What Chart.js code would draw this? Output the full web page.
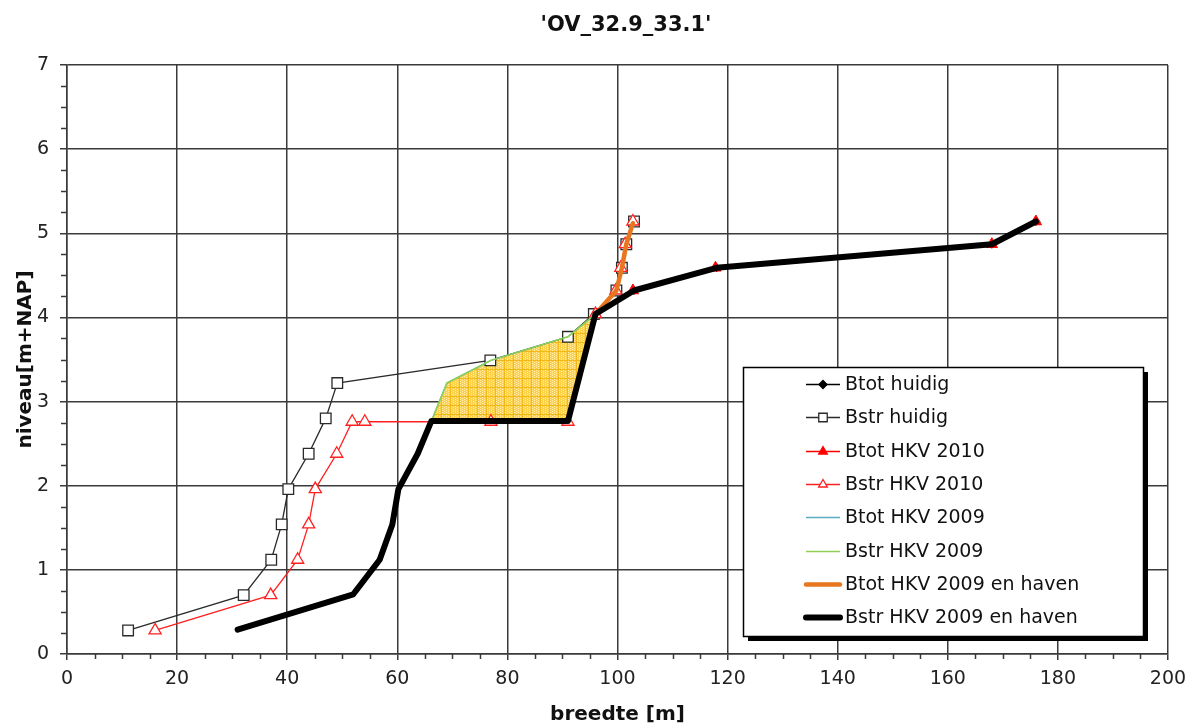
<!DOCTYPE html>
<html>
<head>
<meta charset="utf-8">
<script src="https://cdn.jsdelivr.net/npm/chart.js@4.4.1/dist/chart.umd.min.js"></script>
<style>
html,body{margin:0;padding:0;background:#fff;}
#wrap{width:1197px;height:728px;position:relative;}
</style>
</head>
<body>
<div id="wrap"><canvas id="c" width="1197" height="728"></canvas></div>
<script>
// ---------- texts ----------
const chartTitle = "'OV_32.9_33.1'";
const xAxisTitle = "breedte [m]";
const yAxisTitle = "niveau[m+NAP]";
const seriesNames = ["Btot huidig", "Bstr huidig", "Btot HKV 2010", "Bstr HKV 2010",
  "Btot HKV 2009", "Bstr HKV 2009", "Btot HKV 2009 en haven", "Bstr HKV 2009 en haven"];

// ---------- axis ranges / ticks ----------
const xMin = 0, xMax = 200, xStep = 20, xMinorStep = 5;
const yMin = 0, yMax = 7, yStep = 1, yMinorStep = 0.25;

// ---------- data (breedte [m], niveau [m+NAP]) ----------
const btotHuidigX = [96.0, 103.0, 118.0, 168.0, 176.0];
const btotHuidigY = [4.04, 4.32, 4.59, 4.87, 5.14];

const bstrHuidigX = [11.1, 32.1, 37.1, 39.0, 40.2, 43.9, 47.0, 49.1, 76.9, 91.0, 95.7, 99.8, 100.8, 101.6, 103.0];
const bstrHuidigY = [0.28, 0.70, 1.12, 1.54, 1.96, 2.38, 2.80, 3.22, 3.49, 3.77, 4.04, 4.32, 4.59, 4.87, 5.14];

const btotHkv2010X = [96.0, 102.8, 117.8, 168.0, 176.0];
const btotHkv2010Y = [4.04, 4.32, 4.59, 4.87, 5.14];

const bstrHkv2010X = [16.0, 37.0, 41.9, 43.9, 45.1, 49.0, 51.8, 54.1, 77.0, 91.0, 96.0, 99.7, 100.6, 101.4, 102.8];
const bstrHkv2010Y = [0.28, 0.70, 1.12, 1.54, 1.96, 2.38, 2.76, 2.76, 2.76, 2.76, 4.04, 4.32, 4.59, 4.87, 5.14];

const btotHkv2009X = [66.2, 69.0, 77.0, 91.0, 96.0];
const btotHkv2009Y = [2.77, 3.22, 3.49, 3.77, 4.04];

const bstrHkv2009X = [31.0, 52.0, 56.8, 59.1, 60.2, 63.7, 66.2, 69.0, 77.0, 91.0, 96.0];
const bstrHkv2009Y = [0.29, 0.71, 1.12, 1.54, 1.96, 2.38, 2.77, 3.22, 3.49, 3.77, 4.04];

const btotHavenX = [31.0, 52.0, 56.8, 59.1, 60.2, 63.7, 66.2, 91.0, 96.0, 99.8, 100.8, 101.6, 102.8];
const btotHavenY = [0.29, 0.71, 1.12, 1.54, 1.96, 2.38, 2.77, 2.77, 4.04, 4.32, 4.59, 4.87, 5.12];

const bstrHavenX = [31.0, 52.0, 56.8, 59.1, 60.2, 63.7, 66.2, 91.0, 96.0, 103.0, 118.0, 168.0, 176.0];
const bstrHavenY = [0.29, 0.71, 1.12, 1.54, 1.96, 2.38, 2.77, 2.77, 4.04, 4.32, 4.59, 4.87, 5.14];

// shaded area between "Bstr HKV 2009" and "Bstr HKV 2009 en haven"
const areaX = [66.2, 69.0, 77.0, 91.0, 96.0, 91.0, 66.2];
const areaY = [2.77, 3.22, 3.49, 3.77, 4.04, 2.77, 2.77];

// ---------- helpers ----------
const pts = (xs, ys) => xs.map((x, i) => ({x: x, y: ys[i]}));
const FONT = "'DejaVu Sans', Verdana, sans-serif";
Chart.defaults.font.family = FONT;

const canvas = document.getElementById('c');
const ctx0 = canvas.getContext('2d');

function makePattern() {
  const c = document.createElement('canvas');
  c.width = 9; c.height = 9;
  const g = c.getContext('2d');
  g.fillStyle = '#FCD24C'; g.fillRect(0, 0, 9, 9);
  g.fillStyle = '#FFEDB0';
  for (let i = 1; i < 9; i += 2) for (let j = 1 + ((i >> 1) % 2); j < 9; j += 2) g.fillRect(i, j, 1, 1);
  g.fillStyle = '#F2B81A';
  g.fillRect(0, 0, 9, 1); g.fillRect(0, 0, 1, 9);
  return ctx0.createPattern(c, 'repeat');
}

const GRID = '#3a3a3a';

const datasets = [
  { label: seriesNames[0], data: pts(btotHuidigX, btotHuidigY), borderColor: '#000', backgroundColor: '#000',
    borderWidth: 1.3, pointStyle: 'rectRot', pointRadius: 4, pointBorderWidth: 1, order: 8, legendRadius: 4 },
  { label: seriesNames[1], data: pts(bstrHuidigX, bstrHuidigY), borderColor: '#2a2a2a', backgroundColor: '#fff',
    borderWidth: 1.3, pointStyle: 'rect', pointRadius: 7.5, pointBorderWidth: 1.3, order: 7, legendRadius: 6 },
  { label: seriesNames[2], data: pts(btotHkv2010X, btotHkv2010Y), borderColor: '#ff0000', backgroundColor: '#ff0000',
    borderWidth: 1.3, pointStyle: 'triangle', pointRadius: 6.5, pointBorderWidth: 1, order: 6, legendRadius: 5 },
  { label: seriesNames[3], data: pts(bstrHkv2010X, bstrHkv2010Y), borderColor: '#ff2020', backgroundColor: '#fff',
    borderWidth: 1.3, pointStyle: 'triangle', pointRadius: 7, pointBorderWidth: 1.3, order: 5, legendRadius: 5 },
  { label: seriesNames[4], data: pts(btotHkv2009X, btotHkv2009Y), borderColor: '#5aaec4', backgroundColor: '#5aaec4',
    borderWidth: 1.3, pointRadius: 0, order: 4 },
  { label: seriesNames[5], data: pts(bstrHkv2009X, bstrHkv2009Y), borderColor: '#8fcf55', backgroundColor: '#8fcf55',
    borderWidth: 1.5, pointRadius: 0, order: 3 },
  { label: seriesNames[6], data: pts(btotHavenX, btotHavenY), borderColor: '#e8761e', backgroundColor: '#e8761e',
    borderWidth: 4.5, pointRadius: 0, order: 2, borderJoinStyle: 'round', borderCapStyle: 'round' },
  { label: seriesNames[7], data: pts(bstrHavenX, bstrHavenY), borderColor: '#000', backgroundColor: '#000',
    borderWidth: 6, pointRadius: 0, order: 1, borderJoinStyle: 'round', borderCapStyle: 'round' },
  { label: 'area', data: pts(areaX, areaY), borderWidth: 0, borderColor: 'rgba(0,0,0,0)',
    backgroundColor: makePattern(), fill: 'shape', pointRadius: 0, order: 20, noLegend: true }
];

// minor tick marks
const minorTicks = {
  id: 'minorTicks',
  afterDraw(chart) {
    const {x, y} = chart.scales;
    const ctx = chart.ctx;
    ctx.save();
    ctx.strokeStyle = GRID; ctx.lineWidth = 1.5;
    ctx.beginPath();
    for (let v = xMin; v <= xMax + 1e-9; v += xMinorStep) {
      if (Math.abs(v / xStep - Math.round(v / xStep)) < 1e-6) continue;
      const px = Math.round(x.getPixelForValue(v)) + 0.5;
      ctx.moveTo(px, y.bottom); ctx.lineTo(px, y.bottom + 5);
    }
    for (let v = yMin; v <= yMax + 1e-9; v += yMinorStep) {
      if (Math.abs(v / yStep - Math.round(v / yStep)) < 1e-6) continue;
      const py = Math.round(y.getPixelForValue(v)) + 0.5;
      ctx.moveTo(x.left - 6, py); ctx.lineTo(x.left, py);
    }
    ctx.stroke();
    ctx.restore();
  }
};

// chart title (centered above plot like the original)
const titlePlugin = {
  id: 'topTitle',
  afterDraw(chart) {
    const ctx = chart.ctx;
    ctx.save();
    ctx.font = 'bold 21px ' + FONT;
    ctx.fillStyle = '#111';
    ctx.textAlign = 'center';
    ctx.textBaseline = 'alphabetic';
    ctx.fillText(chartTitle, 626, 31);
    ctx.restore();
  }
};

// boxed legend with shadow
const boxLegend = {
  id: 'boxLegend',
  afterDraw(chart) {
    const ctx = chart.ctx;
    const L = 743, T = 367, W = 400, H = 269;
    ctx.save();
    ctx.fillStyle = '#000';
    ctx.fillRect(L + 5, T + 5, W, H);
    ctx.fillStyle = '#fff';
    ctx.fillRect(L, T, W, H);
    ctx.strokeStyle = '#000'; ctx.lineWidth = 1.5;
    ctx.strokeRect(L + 0.5, T + 0.5, W, H);
    const items = chart.data.datasets.filter(d => !d.noLegend);
    items.forEach((d, i) => {
      const cy = Math.round(T + 17 + i * 33.3);
      const x1 = 806, x2 = 840;
      ctx.strokeStyle = d.borderColor;
      ctx.lineWidth = Math.min(d.borderWidth, 6);
      ctx.lineCap = d.borderWidth > 3 ? 'round' : 'butt';
      ctx.beginPath(); ctx.moveTo(x1, cy + 0.5); ctx.lineTo(x2, cy + 0.5); ctx.stroke();
      if (d.pointRadius) {
        ctx.fillStyle = d.backgroundColor;
        ctx.strokeStyle = d.borderColor;
        ctx.lineCap = 'butt';
        Chart.helpers.drawPoint(ctx, {pointStyle: d.pointStyle, radius: d.legendRadius, rotation: 0,
          borderWidth: d.pointBorderWidth}, 823, cy + 0.5);
      }
      ctx.fillStyle = '#111';
      ctx.font = '19px ' + FONT;
      ctx.textAlign = 'left';
      ctx.textBaseline = 'middle';
      ctx.fillText(d.label, 845, cy + 1);
    });
    ctx.restore();
  }
};

new Chart(canvas, {
  type: 'line',
  data: { datasets: datasets },
  options: {
    responsive: false,
    animation: false,
    events: [],
    layout: { padding: { left: 0, right: 29, top: 65, bottom: 0 } },
    elements: { line: { tension: 0 } },
    plugins: { legend: { display: false }, tooltip: { enabled: false }, title: { display: false } },
    scales: {
      x: {
        type: 'linear', min: xMin, max: xMax,
        ticks: { stepSize: xStep, color: '#222', font: { size: 19 }, padding: 8, maxRotation: 0 },
        grid: { color: GRID, lineWidth: 1.5, tickLength: 6, drawTicks: true },
        border: { color: GRID, width: 1.5 },
        title: { display: true, text: xAxisTitle, color: '#111', font: { size: 20, weight: 'bold' },
                 padding: { top: 0, bottom: 1 } },
        afterFit(s) { s.height = 74; }
      },
      y: {
        type: 'linear', min: yMin, max: yMax,
        ticks: { stepSize: yStep, color: '#222', font: { size: 19 }, padding: 11 },
        grid: { color: GRID, lineWidth: 1.5, tickLength: 7, drawTicks: true },
        border: { color: GRID, width: 1.5 },
        title: { display: true, text: yAxisTitle, color: '#111', font: { size: 20, weight: 'bold' },
                 padding: { top: 14, bottom: 0 } },
        afterFit(s) { s.width = 67; }
      }
    }
  },
  plugins: [minorTicks, titlePlugin, boxLegend]
});
</script>
</body>
</html>
